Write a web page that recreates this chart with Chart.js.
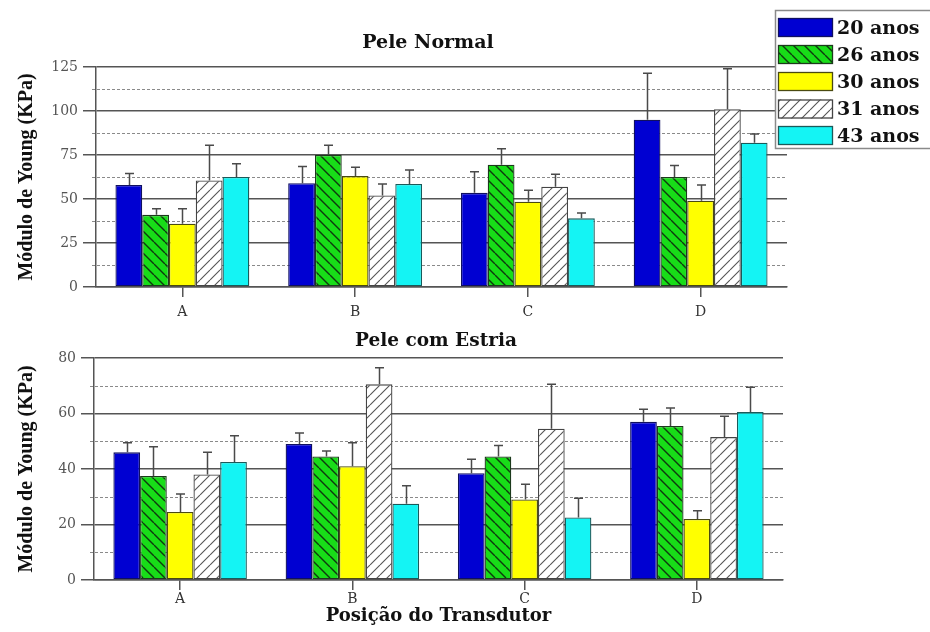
<!DOCTYPE html>
<html>
<head>
<meta charset="utf-8">
<script src="https://cdn.jsdelivr.net/npm/chart.js@4.4.1/dist/chart.umd.min.js"></script>
<style>
  html, body { margin: 0; padding: 0; background: #fff; }
  #wrap { position: relative; width: 930px; height: 632px; overflow: hidden; }
  #normalChart { position: absolute; left: 0; top: 0; }
  #estriaChart { position: absolute; left: 0; top: 325px; }
</style>
</head>
<body>
<div id="wrap">
  <canvas id="normalChart" width="930" height="325"></canvas>
  <canvas id="estriaChart" width="930" height="307"></canvas>
</div>
<script>
// Transducer positions and age groups
const positions = ['A', 'B', 'C', 'D'];
const ageGroups = ['20 anos', '26 anos', '30 anos', '31 anos', '43 anos'];

// Pele Normal: mean Young's modulus (KPa) per age group
const normal20 = [58, 59, 53.5, 95];
const normal26 = [41, 75, 69.5, 62.5];
const normal30 = [36, 63, 48.5, 49];
const normal31 = [60.5, 52, 57, 101];
const normal43 = [62.5, 58.5, 39, 82];
// Pele Normal: upper error (KPa)
const normalErr20 = [6.5, 9.5, 12, 26.5];
const normalErr26 = [3.5, 5.5, 9, 6.5];
const normalErr30 = [8.5, 5, 6.5, 9];
const normalErr31 = [20, 6.5, 7, 23];
const normalErr43 = [7.5, 8, 3, 5];

// Pele com Estria: mean Young's modulus (KPa) per age group
const estria20 = [46, 49, 38.5, 57];
const estria26 = [37.5, 44.5, 44.5, 55.5];
const estria30 = [24.5, 41, 29, 22];
const estria31 = [38, 70.5, 54.5, 51.5];
const estria43 = [42.5, 27.5, 22.5, 60.5];
// Pele com Estria: upper error (KPa)
const estriaErr20 = [3.5, 4, 5, 4.5];
const estriaErr26 = [10.5, 2, 4, 6.5];
const estriaErr30 = [6.5, 8.5, 5.5, 3];
const estriaErr31 = [8, 6, 16, 7.5];
const estriaErr43 = [9.5, 6.5, 7, 9];

// Axis tick settings
const normalTicks = { max: 125, step: 25 };
const estriaTicks = { max: 80, step: 20 };

const titleNormal = 'Pele Normal';
const titleEstria = 'Pele com Estria';
const axisTitleY = 'Módulo de Young (KPa)';
const axisTitleX = 'Posição do Transdutor';

Chart.defaults.font.family = "'DejaVu Serif', serif";

// Diagonal hatch fill
function hatch(bg, line, dir, size, lw) {
  const c = document.createElement('canvas');
  c.width = size; c.height = size;
  const g = c.getContext('2d');
  g.fillStyle = bg;
  g.fillRect(0, 0, size, size);
  g.strokeStyle = line;
  g.lineWidth = lw;
  g.beginPath();
  for (let k = -1; k <= 1; k++) {
    if (dir === 'back') {
      g.moveTo(k * size, 0); g.lineTo(k * size + size, size);
    } else {
      g.moveTo(k * size, size); g.lineTo(k * size + size, 0);
    }
  }
  g.stroke();
  return g.createPattern(c, 'repeat');
}

const fills = [
  '#0000d2',
  hatch('#18dd18', '#0f3a0f', 'back', 11, 1.4),
  '#ffff00',
  hatch('#ffffff', '#555555', 'fwd', 10, 1.1),
  '#14f4f4'
];
const borders = ['#101060', '#1c3a1c', '#4a4a10', '#444444', '#1a5a5a'];

function makeDatasets(values, errors) {
  return ageGroups.map((label, i) => ({
    label: label,
    data: values[i],
    errorUp: errors[i],
    backgroundColor: fills[i],
    borderColor: borders[i],
    borderWidth: 1.3,
    borderSkipped: false,
    categoryPercentage: 0.775,
    barPercentage: 1.0
  }));
}

// Dotted lines halfway between major ticks
const minorGrid = {
  id: 'minorGrid',
  beforeDatasetsDraw(chart) {
    const y = chart.scales.y, a = chart.chartArea, ctx = chart.ctx;
    const t = y.ticks.map(k => k.value);
    ctx.save();
    ctx.strokeStyle = '#8a8a8a';
    ctx.lineWidth = 1.2;
    ctx.setLineDash([3, 2]);
    for (let i = 0; i < t.length - 1; i++) {
      const py = Math.round(y.getPixelForValue((t[i] + t[i + 1]) / 2)) + 0.5;
      ctx.beginPath();
      ctx.moveTo(a.left - 4, py);
      ctx.lineTo(a.right, py);
      ctx.stroke();
    }
    ctx.restore();
  }
};

// Upper error whiskers with caps
const errorBars = {
  id: 'errorBars',
  afterDatasetsDraw(chart) {
    const y = chart.scales.y, ctx = chart.ctx;
    ctx.save();
    ctx.strokeStyle = '#4a4a4a';
    ctx.lineWidth = 1.5;
    chart.data.datasets.forEach((ds, i) => {
      chart.getDatasetMeta(i).data.forEach((bar, j) => {
        const yTop = y.getPixelForValue(ds.data[j] + ds.errorUp[j]);
        const x = Math.round(bar.x) + 0.5;
        ctx.beginPath();
        ctx.moveTo(x, bar.y);
        ctx.lineTo(x, yTop);
        ctx.moveTo(x - 4.5, yTop);
        ctx.lineTo(x + 4.5, yTop);
        ctx.stroke();
      });
    });
    ctx.restore();
  }
};

// Panel heading
function headingPlugin(text, cx, baseline, size) {
  return {
    id: 'heading',
    afterDraw(chart) {
      const ctx = chart.ctx;
      ctx.save();
      ctx.font = "bold " + size + "px 'DejaVu Serif'";
      ctx.fillStyle = '#111';
      ctx.textAlign = 'center';
      ctx.textBaseline = 'alphabetic';
      ctx.fillText(text, cx, baseline);
      ctx.restore();
    }
  };
}

// Legend box in the top-right corner
const ageLegend = {
  id: 'ageLegend',
  afterDraw(chart) {
    const ctx = chart.ctx;
    const bx = 775.5, by = 10.5, bw = 170, bh = 138;
    ctx.save();
    ctx.fillStyle = '#fff';
    ctx.fillRect(bx, by, bw, bh);
    ctx.strokeStyle = '#8a8a8a';
    ctx.lineWidth = 1.5;
    ctx.strokeRect(bx, by, bw, bh);
    const rowsY = [18, 45, 72, 99.5, 126];
    chart.data.datasets.forEach((ds, i) => {
      const sy = rowsY[i];
      ctx.fillStyle = ds.backgroundColor;
      ctx.fillRect(778, sy, 55, 19);
      ctx.strokeStyle = ds.borderColor;
      ctx.lineWidth = 1.3;
      ctx.strokeRect(778.5, sy + 0.5, 54, 18);
      ctx.fillStyle = '#111';
      ctx.font = "bold 19px 'DejaVu Serif'";
      ctx.textAlign = 'left';
      ctx.textBaseline = 'alphabetic';
      ctx.fillText(ds.label, 837, sy + 15.5);
    });
    ctx.restore();
  }
};

function buildOptions(tickCfg, yWidth, xHeight, padding, xTitle, labelPad) {
  return {
    responsive: false,
    animation: false,
    devicePixelRatio: 1,
    layout: { padding: padding },
    plugins: { legend: { display: false }, tooltip: { enabled: false }, title: { display: false } },
    scales: {
      x: {
        grid: { offset: false, drawOnChartArea: false, drawTicks: true, tickLength: 10, color: '#555', lineWidth: 1.5 },
        border: { display: true, color: '#555', width: 1.5 },
        ticks: { color: '#333', font: { size: 14 }, padding: labelPad },
        title: xTitle ? {
          display: true, text: xTitle, color: '#111',
          font: { family: "'DejaVu Serif'", weight: 'bold', size: 18 },
          padding: { top: 0, bottom: 5 }
        } : { display: false },
        afterFit(s) { s.height = xHeight; }
      },
      y: {
        min: 0, max: tickCfg.max,
        ticks: { stepSize: tickCfg.step, color: '#555', font: { size: 14 }, padding: 5 },
        grid: { color: '#555', lineWidth: 1.5, tickLength: 13, drawTicks: true },
        border: { display: true, color: '#555', width: 1.5 },
        title: {
          display: true, text: axisTitleY, color: '#111',
          font: { family: "'Liberation Serif'", weight: 'bold', size: 20 },
          padding: { top: 15, bottom: 0 }
        },
        afterFit(s) { s.width = yWidth; }
      }
    }
  };
}

new Chart(document.getElementById('normalChart'), {
  type: 'bar',
  data: {
    labels: positions,
    datasets: makeDatasets(
      [normal20, normal26, normal30, normal31, normal43],
      [normalErr20, normalErr26, normalErr30, normalErr31, normalErr43])
  },
  options: buildOptions(normalTicks, 96, 38, { left: 0, top: 67, right: 143, bottom: 0 }, null, 7),
  plugins: [minorGrid, errorBars, headingPlugin(titleNormal, 428, 48, 19), ageLegend]
});

new Chart(document.getElementById('estriaChart'), {
  type: 'bar',
  data: {
    labels: positions,
    datasets: makeDatasets(
      [estria20, estria26, estria30, estria31, estria43],
      [estriaErr20, estriaErr26, estriaErr30, estriaErr31, estriaErr43])
  },
  options: buildOptions(estriaTicks, 94, 52, { left: 0, top: 33, right: 147, bottom: 0 }, axisTitleX, 1),
  plugins: [minorGrid, errorBars, headingPlugin(titleEstria, 436, 21, 18.5)]
});
</script>
</body>
</html>
